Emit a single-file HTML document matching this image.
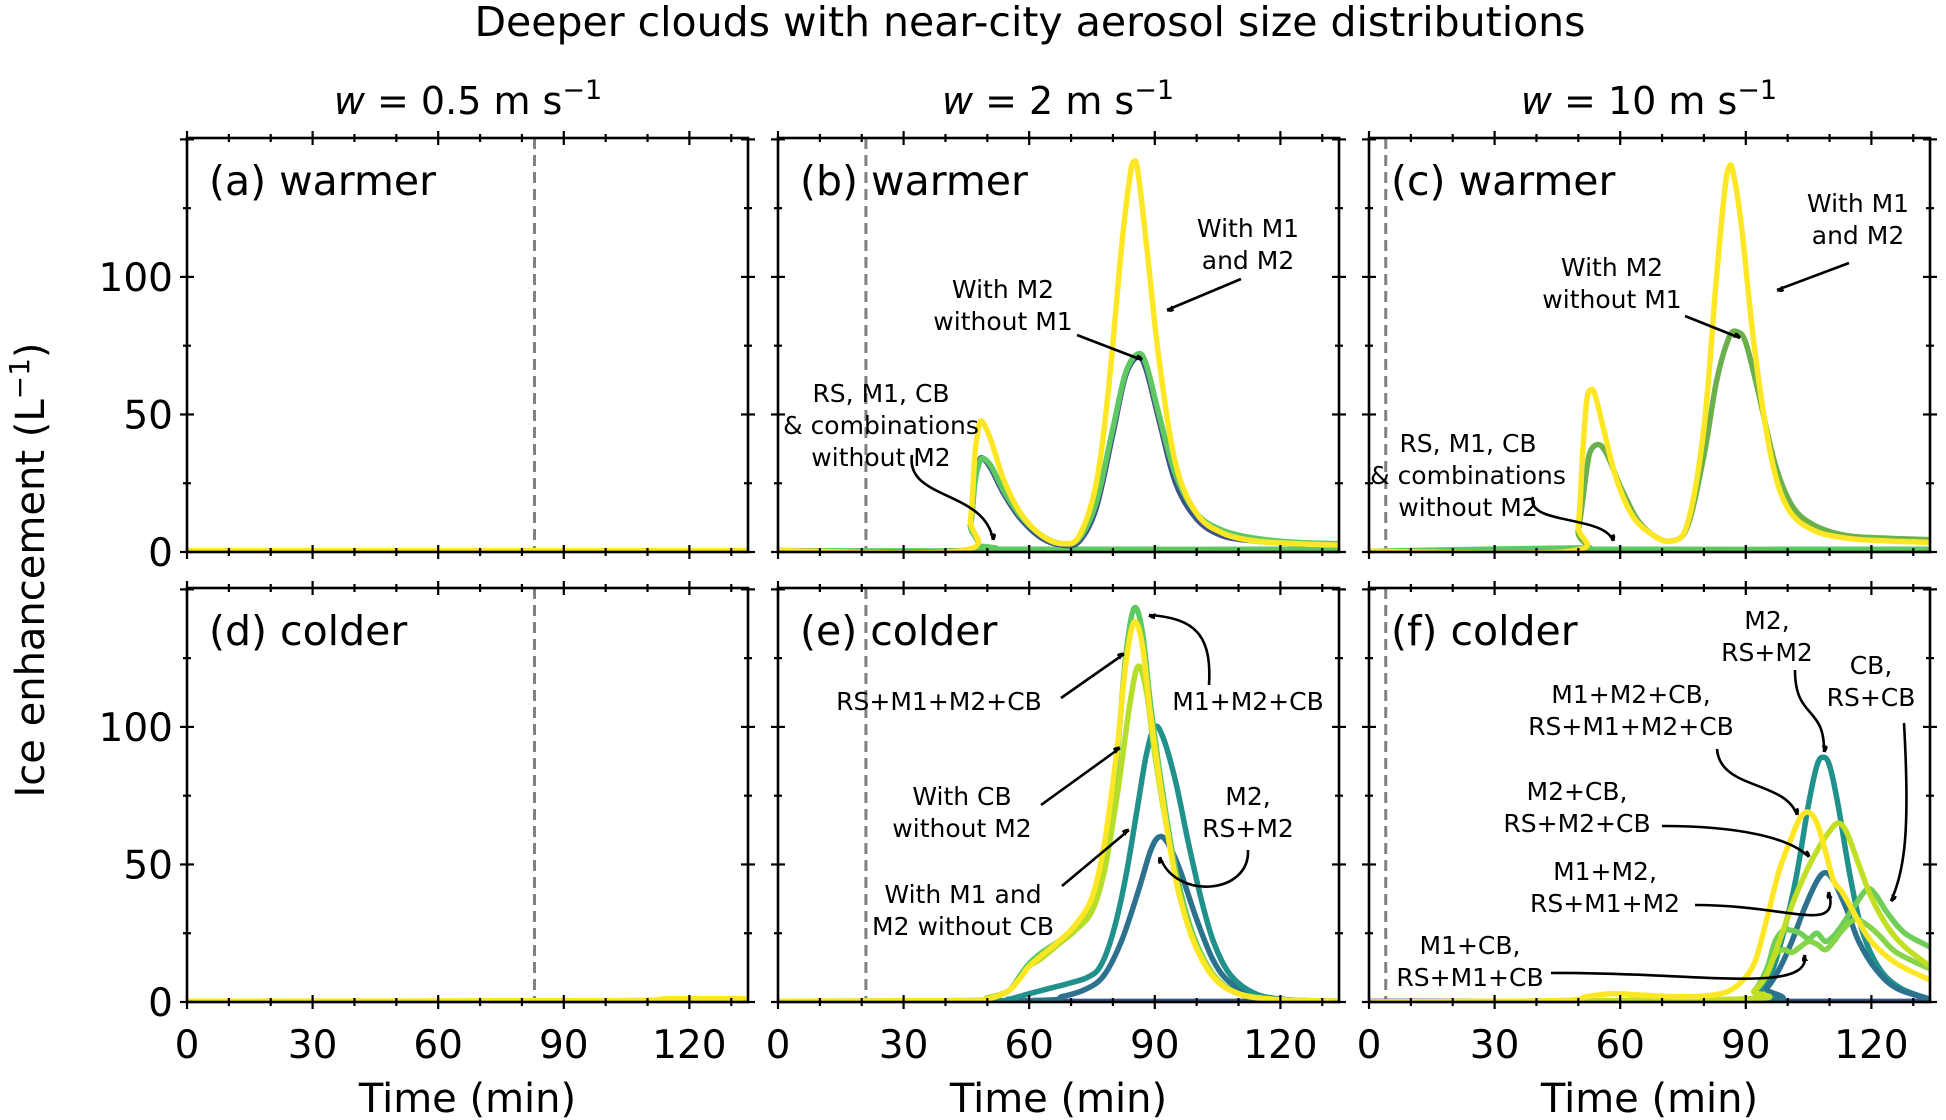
<!DOCTYPE html>
<html><head><meta charset="utf-8"><style>
html,body{margin:0;padding:0;background:#fff;}
svg{display:block;font-family:"DejaVu Sans","Liberation Sans",sans-serif;}
</style></head><body>
<svg id="chart" xmlns="http://www.w3.org/2000/svg" width="1946" height="1120" viewBox="0 0 1946 1120">
<defs>
<marker id="ah" viewBox="0 0 10 10" refX="9" refY="5" markerWidth="7" markerHeight="7" orient="auto-start-reverse" markerUnits="userSpaceOnUse"><path d="M0,0 L10,5 L0,10 z" fill="#000" transform="scale(1.6) translate(-3.5,-3)"/></marker>
</defs>
<text x="1030" y="36" font-size="41" text-anchor="middle">Deeper clouds with near-city aerosol size distributions</text>
<text x="468" y="114" font-size="38" text-anchor="middle"><tspan font-style="italic">w</tspan> = 0.5 m s<tspan dy="-15" font-size="27">−1</tspan></text>
<text x="1058" y="114" font-size="38" text-anchor="middle"><tspan font-style="italic">w</tspan> = 2 m s<tspan dy="-15" font-size="27">−1</tspan></text>
<text x="1649" y="114" font-size="38" text-anchor="middle"><tspan font-style="italic">w</tspan> = 10 m s<tspan dy="-15" font-size="27">−1</tspan></text>
<text transform="translate(44,570) rotate(-90)" font-size="40" text-anchor="middle">Ice enhancement (L<tspan dy="-15" font-size="28">−1</tspan><tspan dy="15">)</tspan></text>
<g id="panels"></g>
<g id="annotations"></g>
</svg>
<script>
// ---- data (time in min, ice enhancement in L^-1) ----
const xTicks = [0, 30, 60, 90, 120];
const yTicks = [0, 50, 100];
const panelLabels = ["(a) warmer","(b) warmer","(c) warmer","(d) colder","(e) colder","(f) colder"];
const dashedTimes = [83, 21, 4, 83, 21, 4];

const aT_flat = [0, 134];
const aV_flat = [0.5, 0.5];

const bT_m1m2 = [0,44,46,47,48,49,51,54,58,63,68,72,76,79,82,84,85,86,88,91,95,100,106,114,124,134];
const bV_m1m2 = [0.5,0.5,12,35,46,47,40,26,14,6,3,6,25,60,110,136,142,138,112,70,32,14,7,4,3,2.5];
const bT_m2 = [0,44,46,47,48,49,51,54,58,63,68,72,76,80,83,86,88,91,95,100,106,114,124,134];
const bV_m2 = [0.5,0.5,10,25,32,34,31,22,13,6,3,5,18,45,65,72,68,50,28,14,8,5,3.5,3];
const bV_m2b = [0.5,0.5,10,26,33,34,30,21,12,5,2.5,4,16,43,64,71,66,48,25,12,6,4,3,2.5];
const bT_flat = [0,44,48,52,56,134];
const bV_flat = [0.5,0.5,2,1.5,1,1];

const cT_m1m2 = [0,48,50,51,52,53,54,56,59,63,68,72,76,80,83,85,86,87,89,92,96,100,106,114,124,134];
const cV_m1m2 = [0.3,0.3,10,35,55,59,57,45,27,13,6,4,10,45,100,132,140,138,118,75,35,16,8,5,4,3.5];
const cT_m2 = [0,48,50,52,53,55,57,60,64,68,72,76,80,83,86,88,90,93,97,101,106,114,124,134];
const cV_m2 = [0.3,0.3,8,30,37,39,35,24,12,6,4,9,35,62,78,80,76,58,32,17,10,6,5,4.5];
const cT_flat = [0,50,56,134];
const cV_flat = [0.3,1.5,1,1];

const dT_flat = [0,100,115,134];
const dV_flat = [0.3,0.5,1.2,1.2];

const eT_grp = [0,45,50,55,58,60,63,67,71,75,78,81,83,85,87,89,92,95,99,104,110,118,126,134];
const eV_m1m2cb = [0.3,0.5,1.5,4,10,14,18,22,27,36,55,90,125,143,135,108,75,48,25,10,3,1,0.5,0.3];
const eV_all = [0.3,0.5,1,4,9,13,17,22,28,38,58,92,122,138,130,104,72,45,23,9,3,1,0.5,0.3];
const eT_cb = [0,45,50,55,58,60,63,67,71,75,78,81,84,86,88,90,93,96,100,105,110,118,126,134];
const eV_cb = [0.3,0.5,1.5,4,9,13,16,21,26,33,48,75,108,122,113,90,62,38,20,8,3,1,0.5,0.3];
const eT_m1m2 = [0,50,55,60,65,70,74,77,80,83,86,88,90,92,95,98,101,104,108,114,122,134];
const eV_m1m2 = [0.3,0.3,1,3,5,7,9,13,25,45,72,90,100,96,80,58,38,22,10,3,0.8,0.3];
const eT_m2 = [0,60,68,74,78,82,86,89,91,93,96,100,104,108,114,122,134];
const eV_m2 = [0.2,0.5,2,5,10,22,40,55,60,58,48,30,15,7,2,0.5,0.2];
const eT_flat = [0,134];
const eV_flat = [0.2,0.2];

const fT_m2 = [0,90,93,96,99,102,105,107,108.5,110,112,115,118,122,127,134];
const fV_m2 = [0,0,3,10,25,45,72,86,89,86,72,45,25,12,5,1];
const fT_m1m2 = [0,91,95,98,101,104,107,109,111,114,117,121,126,134];
const fV_m1m2 = [0,0,5,12,22,34,44,47,44,34,22,12,5,1];
const fT_m1m2cb = [0,45,52,58,65,72,78,84,88,92,95,98,101,103,105,107,109,111,113,116,120,126,134];
const fV_m1m2cb = [0,0.5,2,3,2.5,2,2,3,6,14,30,48,60,67,69,65,55,44,40,32,22,14,8];
const fT_m2cb = [0,88,92,95,98,101,104,107,110,112,114,117,120,124,128,134];
const fV_m2cb = [0,1,4,10,22,35,46,55,62,65,62,50,38,27,20,13];
const fT_cb = [0,88,92,95,97,99,101,103,105,107,109,111,113,116,119,121,124,128,134];
const fV_cb = [0,1,4,12,22,26,26,25,23,25,22,24,28,35,41,39,32,25,20];
const fT_m1cb = [0,88,92,95,97,99,101,103,105,107,109,111,113,116,119,122,126,134];
const fV_m1cb = [0,1,4,10,17,19,18,20,22,21,19,22,26,30,28,24,18,12];
const fT_flat = [0,134];
const fV_flat = [0.2,0.2];

const panelSeries = [
  [["flat-a","#fde725",aT_flat,aV_flat]],
  [["rs-m1-cb-without-m2","#5ec962",bT_flat,bV_flat],["m2-without-m1-blue","#3b528b",bT_m2,bV_m2b],["m2-without-m1","#5ec962",bT_m2,bV_m2],["with-m1-and-m2","#fde725",bT_m1m2,bV_m1m2]],
  [["rs-m1-cb-without-m2","#5ec962",cT_flat,cV_flat],["m2-without-m1","#6ab04c",cT_m2,cV_m2],["with-m1-and-m2","#fde725",cT_m1m2,cV_m1m2]],
  [["flat-d","#fde725",dT_flat,dV_flat]],
  [["baseline","#3b528b",eT_flat,eV_flat],["m2-rs-m2","#2c728e",eT_m2,eV_m2],["m1-m2-without-cb","#21918c",eT_m1m2,eV_m1m2],["m1-m2-cb","#5ec962",eT_grp,eV_m1m2cb],["cb-without-m2","#b5de2b",eT_cb,eV_cb],["rs-m1-m2-cb","#fde725",eT_grp,eV_all]],
  [["baseline","#3b528b",fT_flat,fV_flat],["m2-rs-m2","#21918c",fT_m2,fV_m2],["m1-m2","#2c728e",fT_m1m2,fV_m1m2],["cb-rs-cb","#6ece58",fT_cb,fV_cb],["m1-cb","#86d549",fT_m1cb,fV_m1cb],["m2-cb","#c2df23",fT_m2cb,fV_m2cb],["m1-m2-cb","#fde725",fT_m1m2cb,fV_m1m2cb]]
];

// ---- layout ----
const NS = "http://www.w3.org/2000/svg";
const colX = [187, 778, 1369], rowY = [138, 588];
const PW = 561, PH = 414, XMAX = 134, YMAX = 150.5;
function mk(tag, attrs, parent){ const e=document.createElementNS(NS,tag); for(const k in attrs) e.setAttribute(k,attrs[k]); if(parent) parent.appendChild(e); return e; }
function smooth(pts){
  let d = "M"+pts[0][0].toFixed(1)+","+pts[0][1].toFixed(1);
  for(let i=0;i<pts.length-1;i++){
    const p0=pts[Math.max(0,i-1)], p1=pts[i], p2=pts[i+1], p3=pts[Math.min(pts.length-1,i+2)];
    const c1=[p1[0]+(p2[0]-p0[0])/6, p1[1]+(p2[1]-p0[1])/6];
    const c2=[p2[0]-(p3[0]-p1[0])/6, p2[1]-(p3[1]-p1[1])/6];
    d+=" C"+c1[0].toFixed(1)+","+c1[1].toFixed(1)+" "+c2[0].toFixed(1)+","+c2[1].toFixed(1)+" "+p2[0].toFixed(1)+","+p2[1].toFixed(1);
  }
  return d;
}
const root = document.getElementById("panels");
for(let p=0;p<6;p++){
  const col=p%3, row=Math.floor(p/3);
  const x0=colX[col], y0=rowY[row];
  const sx = t => x0 + t/XMAX*PW;
  const sy = v => y0 + PH - v/YMAX*PH;
  const g = mk("g",{},root);
  
  
  mk("clipPath",{id:"clip"+p},g).appendChild(mk("rect",{x:x0,y:y0,width:PW,height:PH}));
  const dl = mk("line",{x1:sx(dashedTimes[p]),x2:sx(dashedTimes[p]),y1:y0,y2:y0+PH,stroke:"#808080","stroke-width":3,"stroke-dasharray":"11,6"},g);
  
  
  const sg = mk("g",{"clip-path":"url(#clip"+p+")"},g);
  for(const s of panelSeries[p]){
    const pts = s[2].map((t,i)=>[sx(t), sy(s[3][i])]);
    const path = mk("path",{d:smooth(pts),fill:"none",stroke:s[1],"stroke-width":5.5,"stroke-linejoin":"round","stroke-linecap":"round"},sg);
    
    
  }
  const fr = mk("rect",{x:x0,y:y0,width:PW,height:PH,fill:"none",stroke:"#000","stroke-width":2.6},g);
  
  
  for(let t=0;t<=XMAX;t+=10){
    const major = t%30===0, L = major?7:4;
    mk("line",{x1:sx(t),x2:sx(t),y1:y0+PH-L,y2:y0+PH+L,stroke:"#000","stroke-width":2.2},g);
    mk("line",{x1:sx(t),x2:sx(t),y1:y0-L,y2:y0+L,stroke:"#000","stroke-width":2.2},g);
  }
  for(let v=0;v<=150;v+=25){
    const major = v%50===0, L = major?7:4;
    mk("line",{x1:x0-L,x2:x0+L,y1:sy(v),y2:sy(v),stroke:"#000","stroke-width":2.2},g);
    mk("line",{x1:x0+PW-L,x2:x0+PW+L,y1:sy(v),y2:sy(v),stroke:"#000","stroke-width":2.2},g);
  }
  if(row===1){
    for(const t of xTicks){
      const tl = mk("text",{x:sx(t),y:y0+PH+56,"font-size":39,"text-anchor":"middle"},g);
      tl.textContent = t;
      
      
    }
    const xt = mk("text",{x:x0+PW/2,y:1112,"font-size":40,"text-anchor":"middle"},g);
    xt.textContent = "Time (min)";
    
    
  }
  if(col===0){
    for(const v of yTicks){
      const tl = mk("text",{x:x0-14,y:sy(v)+14,"font-size":39,"text-anchor":"end"},g);
      tl.textContent = v;
      
      
    }
  }
  const lb = mk("text",{x:x0+22,y:y0+57,"font-size":41},g);
  lb.textContent = panelLabels[p];
  
  
}
// ---- annotations ----
const ann = document.getElementById("annotations");
function label(lines, cx, cy, name){
  lines.forEach((s,i)=>{
    const t = mk("text",{x:cx,y:cy+i*32,"font-size":25,"text-anchor":"middle"},ann);
    t.textContent = s;
    
    
  });
}
function arrow(d){
  const a = mk("path",{d:d,fill:"none",stroke:"#000","stroke-width":2.6,"marker-end":"url(#ah)"},ann);
  
  
}
label(["With M1","and M2"],1248,237,"label-b-with-m1-m2");
arrow("M1241,279 L1167,310");
label(["With M2","without M1"],1003,298,"label-b-m2-without-m1");
arrow("M1077,335 L1142,360");
label(["RS, M1, CB","& combinations","without M2"],881,402,"label-b-without-m2");
arrow("M912,455 C905,500 985,490 993,540");
label(["With M1","and M2"],1858,212,"label-c-with-m1-m2");
arrow("M1849,263 L1777,290");
label(["With M2","without M1"],1612,276,"label-c-m2-without-m1");
arrow("M1685,316 L1740,338");
label(["RS, M1, CB","& combinations","without M2"],1468,452,"label-c-without-m2");
arrow("M1533,497 C1525,525 1605,515 1613,541");
// panel e
label(["RS+M1+M2+CB"],939,710,"label-e-rs-m1-m2-cb");
arrow("M1061,698 L1124,654");
label(["M1+M2+CB"],1248,710,"label-e-m1-m2-cb");
arrow("M1209,685 C1212,635 1195,618 1149,615");
label(["With CB","without M2"],962,805,"label-e-cb-without-m2");
arrow("M1041,805 L1120,748");
label(["With M1 and","M2 without CB"],963,903,"label-e-m1-m2-without-cb");
arrow("M1062,886 L1129,830");
label(["M2,","RS+M2"],1248,805,"label-e-m2");
arrow("M1248,850 C1250,895 1175,900 1160,857");
// panel f
label(["M2,","RS+M2"],1767,629,"label-f-m2");
arrow("M1795,670 C1795,720 1825,705 1824,752");
label(["CB,","RS+CB"],1871,674,"label-f-cb");
arrow("M1904,723 C1910,830 1905,870 1891,901");
label(["M1+M2+CB,","RS+M1+M2+CB"],1631,703,"label-f-m1-m2-cb");
arrow("M1717,749 C1720,790 1785,780 1797,815");
label(["M2+CB,","RS+M2+CB"],1577,800,"label-f-m2-cb");
arrow("M1662,826 C1740,826 1790,838 1809,857");
label(["M1+M2,","RS+M1+M2"],1605,880,"label-f-m1-m2");
arrow("M1695,905 C1790,905 1840,935 1829,892");
label(["M1+CB,","RS+M1+CB"],1470,954,"label-f-m1-cb");
arrow("M1551,973 C1700,972 1810,995 1805,955");
</script>
</body></html>
